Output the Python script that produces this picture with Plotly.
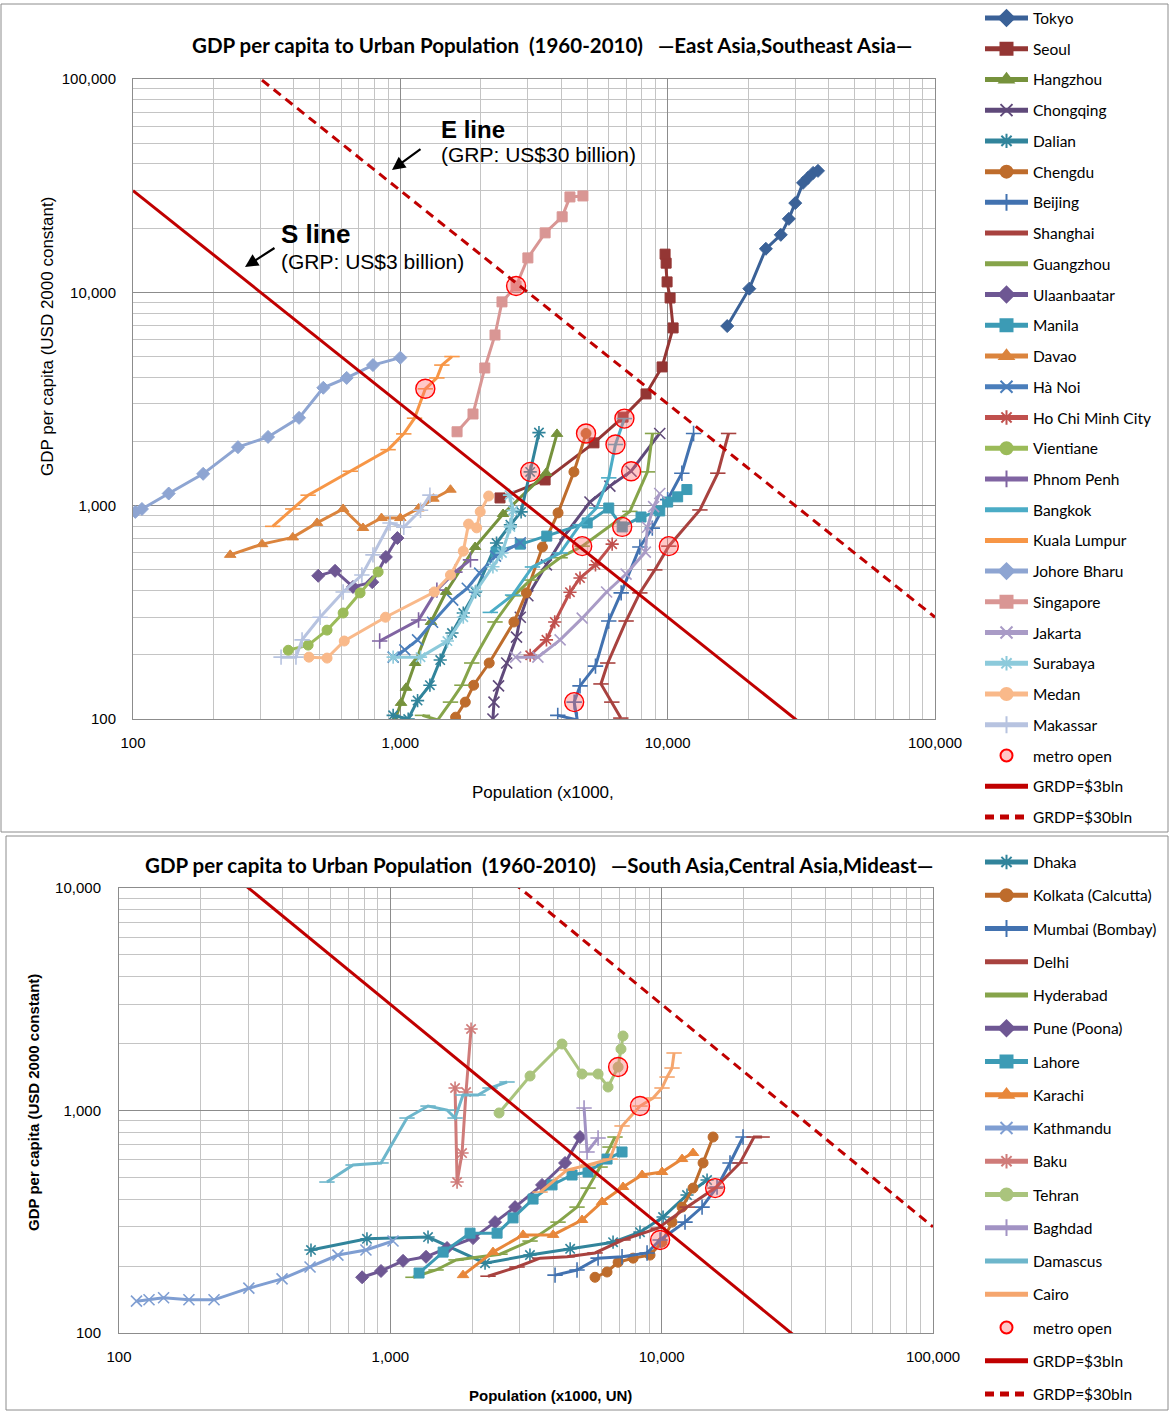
import plotly.graph_objects as go

W, H = 1169, 1411

# ---------------- East Asia / Southeast Asia (population x1000, GDP per capita USD 2000) ----------------
tokyo_pop = [16700, 20200, 23300, 26500, 28400, 30000, 32100, 33500, 35000, 36500]
tokyo_gdp = [6950, 10400, 16000, 18600, 22100, 26200, 32600, 34400, 36300, 37100]
seoul_pop = [2360, 3480, 5300, 6810, 8300, 9530, 10480, 10210, 9950, 9870, 9780]
seoul_gdp = [1087, 1320, 1970, 2600, 3340, 4470, 6810, 9410, 11190, 13700, 15100]
hangzhou_pop = [955, 1006, 1050, 1135, 1302, 1483, 1904, 2423, 3508, 3855]
hangzhou_gdp = [99, 119, 140, 183, 285, 394, 640, 914, 1424, 2170]
chongqing_pop = [2220, 2240, 2330, 2500, 2720, 2810, 3000, 3520, 4130, 5120, 6080, 7300, 9340]
chongqing_gdp = [100, 120, 143, 183, 242, 300, 378, 528, 730, 1040, 1235, 1450, 2180]
dalian_pop = [940, 1070, 1160, 1290, 1410, 1560, 1720, 1910, 2290, 2580, 2830, 3060, 3300]
dalian_gdp = [104, 100, 122, 144, 189, 253, 314, 394, 668, 814, 935, 1440, 2200]
chengdu_pop = [1610, 1750, 1880, 2150, 2660, 2960, 3400, 3890, 4460, 4950]
chengdu_gdp = [102, 120, 144, 183, 285, 390, 640, 925, 1440, 2180]
beijing_pop = [3880, 4590, 4470, 4700, 5370, 6020, 6700, 7870, 8760, 10000, 11300, 12500]
beijing_gdp = [104, 99, 120, 143, 177, 288, 390, 640, 785, 1067, 1420, 2180]
shanghai_pop = [6680, 6180, 5630, 5970, 6990, 7870, 8950, 10100, 13200, 15400, 16900]
shanghai_gdp = [101, 120, 146, 183, 288, 390, 500, 646, 955, 1420, 2180]
guangzhou_pop = [1210, 1380, 1540, 1700, 1850, 2260, 2660, 3060, 3960, 4790, 7220, 8400, 8780]
guangzhou_gdp = [104, 99, 120, 144, 183, 285, 378, 448, 570, 646, 940, 1440, 2180]
ulaanbaatar_pop = [493, 570, 665, 785, 883, 975]
ulaanbaatar_gdp = [469, 495, 416, 438, 575, 705]
manila_pop = [2280, 2810, 3530, 5000, 6020, 6760, 7950, 9340, 10000, 10900, 11800]
manila_gdp = [606, 660, 720, 830, 975, 795, 885, 945, 1040, 1100, 1190]
davao_pop = [231, 304, 396, 488, 611, 725, 850, 1000, 1170, 1330, 1540]
davao_gdp = [588, 660, 710, 830, 965, 786, 875, 875, 970, 1078, 1188]
hanoi_pop = [940, 1040, 1160, 1320, 1570, 1780, 1980, 2270, 2810]
hanoi_gdp = [195, 211, 235, 284, 361, 410, 483, 580, 670]
hcmc_pop = [3060, 3520, 3780, 4310, 4700, 5370, 6200]
hcmc_gdp = [199, 235, 285, 393, 458, 528, 660]
vientiane_pop = [381, 452, 532, 611, 707, 826]
vientiane_gdp = [210, 222, 261, 314, 390, 489]
phnompenh_pop = [837, 1170, 1370, 1600, 1830]
phnompenh_gdp = [232, 291, 402, 488, 557]
bangkok_pop = [2170, 2630, 3120, 3960, 4700, 5420, 6020, 6380, 6890]
bangkok_gdp = [316, 381, 516, 600, 814, 975, 1350, 1935, 2560]
kl_pop = [333, 396, 452, 650, 900, 1030, 1130, 1240, 1370, 1430, 1560]
kl_gdp = [800, 965, 1120, 1450, 1830, 2170, 2570, 3530, 3970, 4560, 5000]
johore_pop = [102, 108, 136, 183, 247, 320, 418, 515, 630, 790, 1000]
johore_gdp = [935, 965, 1140, 1410, 1880, 2100, 2580, 3570, 3970, 4560, 4940]
singapore_pop = [1630, 1870, 2070, 2260, 2400, 2710, 3000, 3480, 4030, 4310, 4820]
singapore_gdp = [2220, 2690, 4420, 6310, 9020, 10700, 14500, 19000, 22600, 28000, 28300]
jakarta_pop = [2700, 3270, 3960, 4790, 5910, 6990, 8250, 8400, 8860, 9340]
jakarta_gdp = [195, 195, 235, 297, 394, 478, 606, 792, 990, 1140]
surabaya_pop = [940, 1190, 1500, 1720, 1920, 2220, 2400, 2580, 2640, 2560]
surabaya_gdp = [195, 195, 232, 300, 398, 517, 600, 795, 950, 1120]
medan_pop = [455, 532, 617, 880, 1340, 1540, 1720, 1800, 1930, 1990, 2140]
medan_gdp = [195, 193, 232, 300, 394, 473, 612, 820, 787, 937, 1110]
makassar_pop = [358, 407, 429, 501, 611, 718, 790, 915, 1030, 1190, 1290]
makassar_gdp = [195, 195, 235, 300, 394, 473, 588, 830, 792, 952, 1120]
metro_east_pop = [2710, 1240, 4950, 6890, 6380, 3060, 7300, 4790, 6760, 10100, 4470]
metro_east_gdp = [10700, 3530, 2180, 2560, 1935, 1440, 1450, 646, 795, 646, 120]

# ---------------- South Asia / Central Asia / Mideast ----------------
dhaka_pop = [510, 820, 1377, 2234, 3270, 4600, 6620, 8320, 10120, 12400, 14700]
dhaka_gdp = [236, 265, 270, 206, 224, 239, 256, 284, 332, 417, 487]
kolkata_pop = [5680, 6290, 6910, 7850, 9060, 10030, 10920, 11890, 13050, 14210, 15470]
kolkata_gdp = [178, 188, 208, 217, 224, 256, 315, 368, 448, 581, 760]
mumbai_pop = [4046, 4876, 5830, 7145, 8835, 9870, 12190, 14090, 16000, 17860, 19950]
mumbai_gdp = [182, 192, 217, 220, 229, 262, 315, 368, 453, 581, 760]
delhi_pop = [2291, 2931, 3563, 4480, 5680, 7205, 9700, 12410, 15740, 19450, 21900, 23450]
delhi_gdp = [180, 198, 217, 220, 229, 262, 296, 368, 448, 581, 760, 760]
hyderabad_pop = [1212, 1474, 1747, 2536, 3273, 4150, 4876, 5355, 5930, 6450, 6730]
hyderabad_gdp = [178, 192, 213, 226, 259, 315, 368, 448, 557, 685, 760]
pune_pop = [787, 924, 1114, 1354, 1618, 2018, 2432, 2882, 3624, 4405, 5003]
pune_gdp = [178, 190, 211, 220, 241, 267, 315, 368, 463, 581, 760]
lahore_pop = [1276, 1565, 1967, 2474, 2833, 3357, 3945, 4674, 5355, 6291, 7145]
lahore_gdp = [186, 231, 281, 281, 329, 400, 463, 513, 529, 605, 651]
karachi_pop = [1853, 2390, 3084, 3979, 5088, 6030, 7205, 8470, 10030, 11890, 13050]
karachi_gdp = [182, 231, 276, 276, 322, 388, 453, 513, 529, 605, 644]
kathmandu_pop = [116, 129, 146, 181, 224, 301, 399, 506, 641, 813, 1023]
kathmandu_gdp = [139, 141, 144, 141, 141, 159, 175, 198, 224, 236, 259]
baku_pop = [1732, 1762, 1838, 1901, 1984]
baku_gdp = [1262, 477, 644, 1211, 2324]
tehran_pop = [2516, 3273, 4293, 5088, 5830, 6345, 6910, 7080, 7205]
tehran_gdp = [975, 1429, 1990, 1459, 1459, 1275, 1568, 1889, 2162]
baghdad_pop = [5176, 5309, 5830]
baghdad_gdp = [1026, 651, 752]
damascus_pop = [584, 729, 924, 1152, 1377, 1618, 1732, 1853, 2105, 2330, 2692]
damascus_gdp = [477, 569, 581, 925, 1047, 1005, 925, 1174, 1174, 1262, 1343]
cairo_pop = [3563, 4480, 5355, 6450, 7145, 8320, 9300, 10030, 10470, 10920, 11110]
cairo_gdp = [430, 540, 569, 605, 852, 1047, 1138, 1262, 1414, 1552, 1813]
metro_south_pop = [6910, 8320, 9870, 15740]
metro_south_gdp = [1568, 1047, 262, 448]

# Reference lines: total regional product GRDP = population x GDP per capita
line_pop = [100, 100000]
s_line_grp_usd = 3e9
e_line_grp_usd = 3e10

x_ticks = [100, 1000, 10000, 100000]
x_ticktext = ["100", "1,000", "10,000", "100,000"]
y_ticks_top = [100, 1000, 10000, 100000]
y_ticktext_top = ["100", "1,000", "10,000", "100,000"]
y_ticks_bottom = [100, 1000, 10000]
y_ticktext_bottom = ["100", "1,000", "10,000"]

east_series = [
    ("Tokyo", tokyo_pop, tokyo_gdp, "#3A6197", "diamond"),
    ("Seoul", seoul_pop, seoul_gdp, "#943634", "square"),
    ("Hangzhou", hangzhou_pop, hangzhou_gdp, "#76923C", "triangle-up"),
    ("Chongqing", chongqing_pop, chongqing_gdp, "#5F497A", "x-thin"),
    ("Dalian", dalian_pop, dalian_gdp, "#31849B", "asterisk"),
    ("Chengdu", chengdu_pop, chengdu_gdp, "#BE6C2C", "circle"),
    ("Beijing", beijing_pop, beijing_gdp, "#4272B0", "cross-thin"),
    ("Shanghai", shanghai_pop, shanghai_gdp, "#A8423F", "line-ew"),
    ("Guangzhou", guangzhou_pop, guangzhou_gdp, "#86A44A", "line-ew"),
    ("Ulaanbaatar", ulaanbaatar_pop, ulaanbaatar_gdp, "#6E5793", "diamond"),
    ("Manila", manila_pop, manila_gdp, "#3C9BB5", "square"),
    ("Davao", davao_pop, davao_gdp, "#DB843D", "triangle-up"),
    ("Hà Noi", hanoi_pop, hanoi_gdp, "#4A7EBB", "x-thin"),
    ("Ho Chi Minh City", hcmc_pop, hcmc_gdp, "#C0504D", "asterisk"),
    ("Vientiane", vientiane_pop, vientiane_gdp, "#9BBB59", "circle"),
    ("Phnom Penh", phnompenh_pop, phnompenh_gdp, "#8064A2", "cross-thin"),
    ("Bangkok", bangkok_pop, bangkok_gdp, "#4BACC6", "line-ew"),
    ("Kuala Lumpur", kl_pop, kl_gdp, "#F79646", "line-ew"),
    ("Johore Bharu", johore_pop, johore_gdp, "#8EA5D2", "diamond"),
    ("Singapore", singapore_pop, singapore_gdp, "#D99694", "square"),
    ("Jakarta", jakarta_pop, jakarta_gdp, "#A99BC6", "x-thin"),
    ("Surabaya", surabaya_pop, surabaya_gdp, "#8CCADB", "asterisk"),
    ("Medan", medan_pop, medan_gdp, "#F9B98A", "circle"),
    ("Makassar", makassar_pop, makassar_gdp, "#B7C3E0", "cross-thin"),
]

south_series = [
    ("Dhaka", dhaka_pop, dhaka_gdp, "#31849B", "asterisk"),
    ("Kolkata (Calcutta)", kolkata_pop, kolkata_gdp, "#BE6C2C", "circle"),
    ("Mumbai (Bombay)", mumbai_pop, mumbai_gdp, "#4272B0", "cross-thin"),
    ("Delhi", delhi_pop, delhi_gdp, "#A8423F", "line-ew"),
    ("Hyderabad", hyderabad_pop, hyderabad_gdp, "#86A44A", "line-ew"),
    ("Pune (Poona)", pune_pop, pune_gdp, "#6E5793", "diamond"),
    ("Lahore", lahore_pop, lahore_gdp, "#3C9BB5", "square"),
    ("Karachi", karachi_pop, karachi_gdp, "#E8873A", "triangle-up"),
    ("Kathmandu", kathmandu_pop, kathmandu_gdp, "#7F9ED2", "x-thin"),
    ("Baku", baku_pop, baku_gdp, "#CF7B79", "asterisk"),
    ("Tehran", tehran_pop, tehran_gdp, "#AAC47D", "circle"),
    ("Baghdad", baghdad_pop, baghdad_gdp, "#A293C4", "cross-thin"),
    ("Damascus", damascus_pop, damascus_gdp, "#6DB6CB", "line-ew"),
    ("Cairo", cairo_pop, cairo_gdp, "#F5A66E", "line-ew"),
]

LINE_SYMBOLS = {"x-thin", "asterisk", "cross-thin", "line-ew"}
RED = "#C00000"
GRID_MAJOR = "#8C8C8C"
GRID_MINOR = "#C4C4C4"
ARIAL = "Liberation Sans, Arial, sans-serif"
CALIBRI = "Lato, Carlito, Calibri, sans-serif"

fig = go.Figure()


def add_panel(series, metro_pop, metro_gdp, xa, ya, legend, tag):
    for name, pop, gdp, color, symbol in series:
        if symbol in LINE_SYMBOLS:
            marker = dict(symbol=symbol, size=11, color=color,
                          line=dict(color=color, width=1.6))
        else:
            marker = dict(symbol=symbol, size=10, color=color,
                          line=dict(color=color, width=1))
        fig.add_trace(go.Scatter(
            x=pop, y=gdp, name=name, mode="lines+markers",
            line=dict(color=color, width=3), marker=marker,
            xaxis=xa, yaxis=ya, legend=legend, legendgroup=tag + name))
    fig.add_trace(go.Scatter(
        x=metro_pop, y=metro_gdp, name="metro open", mode="markers",
        marker=dict(symbol="circle", size=19, color="rgba(255,110,110,0.38)",
                    line=dict(color="#FF0000", width=1.4)),
        xaxis=xa, yaxis=ya, legend=legend, legendgroup=tag + "metro"))
    s_gdp = [s_line_grp_usd / (p * 1000) for p in line_pop]
    e_gdp = [e_line_grp_usd / (p * 1000) for p in line_pop]
    fig.add_trace(go.Scatter(
        x=line_pop, y=s_gdp, name="GRDP=$3bln", mode="lines",
        line=dict(color=RED, width=3), xaxis=xa, yaxis=ya,
        legend=legend, legendgroup=tag + "s"))
    fig.add_trace(go.Scatter(
        x=line_pop, y=e_gdp, name="GRDP=$30bln", mode="lines",
        line=dict(color=RED, width=3, dash="9px,6px"), xaxis=xa, yaxis=ya,
        legend=legend, legendgroup=tag + "e"))


add_panel(east_series, metro_east_pop, metro_east_gdp, "x", "y", "legend", "t_")
add_panel(south_series, metro_south_pop, metro_south_gdp, "x2", "y2", "legend2", "b_")


def minor_vals(lo_exp, hi_exp):
    vals = []
    for e in range(lo_exp, hi_exp):
        for d in range(2, 10):
            vals.append(d * 10 ** e)
    return vals


def log_axis(lo_exp, hi_exp, ticks, ticktext, domain, anchor, standoff):
    return dict(
        type="log", range=[lo_exp, hi_exp], domain=domain, anchor=anchor,
        tickmode="array", tickvals=ticks, ticktext=ticktext,
        showgrid=True, gridcolor=GRID_MAJOR, gridwidth=1,
        minor=dict(tickmode="array", tickvals=minor_vals(lo_exp, hi_exp),
                   showgrid=True, gridcolor=GRID_MINOR, gridwidth=1, ticks=""),
        showline=True, linecolor=GRID_MAJOR, linewidth=1, mirror=True,
        ticks="", ticklabelstandoff=standoff, zeroline=False, automargin=False,
        tickfont=dict(family=ARIAL, size=15, color="#000000"),
    )


def px(xp):
    return xp / W


def py(yp):
    return 1 - yp / H


fig.update_layout(
    width=W, height=H, autosize=False,
    margin=dict(l=0, r=0, t=0, b=0, pad=0, autoexpand=False),
    paper_bgcolor="#FFFFFF", plot_bgcolor="#FFFFFF", showlegend=True,
    xaxis=log_axis(2, 5, x_ticks, x_ticktext, [px(133), px(935)], "y", 10),
    yaxis=log_axis(2, 5, y_ticks_top, y_ticktext_top, [py(719), py(79)], "x", 13),
    xaxis2=log_axis(2, 5, x_ticks, x_ticktext, [px(119), px(933)], "y2", 10),
    yaxis2=log_axis(2, 4, y_ticks_bottom, y_ticktext_bottom, [py(1333), py(888)], "x2", 14),
    legend=dict(x=px(980), y=py(1.4), xanchor="left", yanchor="top",
                font=dict(family=CALIBRI, size=15.5, color="#000000"),
                traceorder="grouped", tracegroupgap=7.58, itemsizing="constant",
                itemwidth=43, bgcolor="rgba(0,0,0,0)"),
    legend2=dict(x=px(980), y=py(845.4), xanchor="left", yanchor="top",
                 font=dict(family=CALIBRI, size=15.5, color="#000000"),
                 traceorder="grouped", tracegroupgap=10.1, itemsizing="constant",
                 itemwidth=43, bgcolor="rgba(0,0,0,0)"),
)

NB = "\u00a0"
annotations = [
    dict(x=px(552), y=py(45),
         text="<b>GDP per capita to Urban Population" + NB * 2 + "(1960-2010)" + NB * 3
              + "―East Asia,Southeast Asia―</b>",
         font=dict(family=CALIBRI, size=20.5, color="#000000"), showarrow=False,
         xanchor="center", yanchor="middle"),
    dict(x=px(539), y=py(865),
         text="<b>GDP per capita to Urban Population" + NB * 2 + "(1960-2010)" + NB * 3
              + "―South Asia,Central Asia,Mideast―</b>",
         font=dict(family=CALIBRI, size=20.5, color="#000000"), showarrow=False,
         xanchor="center", yanchor="middle"),
    dict(x=px(47), y=py(337), text="GDP per capita (USD 2000 constant)", textangle=-90,
         font=dict(family=ARIAL, size=17, color="#000000"), showarrow=False,
         xanchor="center", yanchor="middle"),
    dict(x=px(543), y=py(793), text="Population (x1000,",
         font=dict(family=ARIAL, size=17, color="#000000"), showarrow=False,
         xanchor="center", yanchor="middle"),
    dict(x=px(33), y=py(1103), text="<b>GDP per capita (USD 2000 constant)</b>", textangle=-90,
         font=dict(family=ARIAL, size=15, color="#000000"), showarrow=False,
         xanchor="center", yanchor="middle"),
    dict(x=px(550), y=py(1395), text="<b>Population (x1000, UN)</b>",
         font=dict(family=ARIAL, size=15, color="#000000"), showarrow=False,
         xanchor="center", yanchor="middle"),
    # line labels
    dict(x=px(439), y=py(130), text="<b>E line</b>",
         font=dict(family=ARIAL, size=24, color="#000000"), showarrow=False,
         xanchor="left", yanchor="middle"),
    dict(x=px(439), y=py(154), text="(GRP: US$30 billion)",
         font=dict(family=ARIAL, size=21, color="#000000"), showarrow=False,
         xanchor="left", yanchor="middle"),
    dict(x=px(279), y=py(234), text="<b>S line</b>",
         font=dict(family=ARIAL, size=26, color="#000000"), showarrow=False,
         xanchor="left", yanchor="middle"),
    dict(x=px(279), y=py(261), text="(GRP: US$3 billion)",
         font=dict(family=ARIAL, size=21, color="#000000"), showarrow=False,
         xanchor="left", yanchor="middle"),
    dict(x=px(392), y=py(170), ax=30, ay=-22, text="", showarrow=True,
         arrowhead=2, arrowsize=1.2, arrowwidth=2.2, arrowcolor="#000000"),
    dict(x=px(245), y=py(267), ax=31, ay=-20, text="", showarrow=True,
         arrowhead=2, arrowsize=1.2, arrowwidth=2.2, arrowcolor="#000000"),
]
for a in annotations:
    a.setdefault("xref", "paper")
    a.setdefault("yref", "paper")
fig.update_layout(annotations=annotations)

# chart frames
fig.update_layout(shapes=[
    dict(type="rect", xref="paper", yref="paper", x0=px(1), x1=px(1168), y0=py(832), y1=py(4),
         line=dict(color="#8C8C8C", width=1), fillcolor="rgba(0,0,0,0)", layer="below"),
    dict(type="rect", xref="paper", yref="paper", x0=px(6), x1=px(1168), y0=py(1410), y1=py(836),
         line=dict(color="#8C8C8C", width=1), fillcolor="rgba(0,0,0,0)", layer="below"),
])

fig.write_html("out.html")
